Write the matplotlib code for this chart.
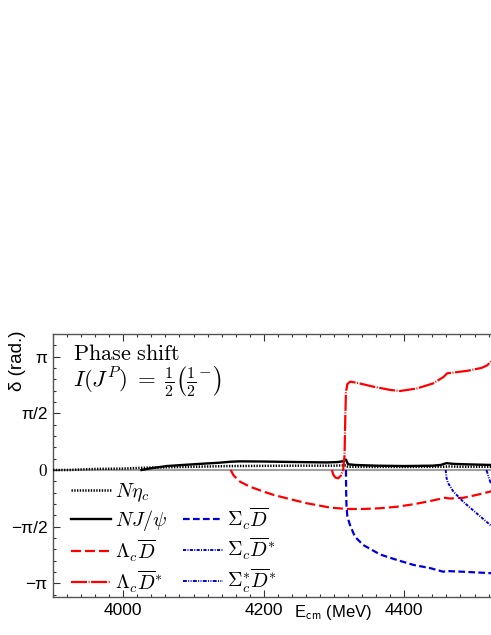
import matplotlib
matplotlib.use("Agg")
import matplotlib.pyplot as plt
from matplotlib.lines import Line2D
import numpy as np

# ---------------- data ----------------
E_neta = [3900, 3922, 3960, 4000, 4024, 4060, 4100, 4153, 4200, 4250, 4300, 4317, 4320, 4360, 4400, 4458, 4462, 4480, 4524]
d_neta = [0.0, 0.0, 0.03, 0.04, 0.06, 0.075, 0.09, 0.11, 0.115, 0.12, 0.12, 0.13, 0.09, 0.085, 0.085, 0.09, 0.10, 0.09, 0.09]

E_njpsi = [4026, 4040, 4062, 4085, 4109, 4135, 4153, 4166, 4200, 4250, 4290, 4305, 4312, 4317, 4320, 4330, 4360, 4400, 4440, 4452, 4460, 4470, 4484, 4524]
d_njpsi = [0.0, 0.05, 0.11, 0.14, 0.17, 0.20, 0.23, 0.24, 0.235, 0.22, 0.21, 0.22, 0.24, 0.29, 0.16, 0.14, 0.12, 0.11, 0.12, 0.14, 0.19, 0.17, 0.16, 0.14]

E_lcd = [4153, 4157, 4166, 4180, 4200, 4214, 4240, 4261, 4294, 4318, 4342, 4365, 4389, 4413, 4437, 4458, 4465, 4484, 4503, 4524]
d_lcd = [0.0, -0.15, -0.32, -0.46, -0.60, -0.69, -0.82, -0.92, -1.04, -1.08, -1.08, -1.06, -1.02, -0.95, -0.86, -0.77, -0.79, -0.77, -0.69, -0.59]

E_lcds = [4297, 4299, 4302, 4306, 4310, 4313, 4315, 4316, 4317, 4319, 4323, 4332, 4356, 4380, 4394, 4418, 4441, 4456, 4461, 4465, 4490, 4510, 4518, 4524]
d_lcds = [0.0, -0.13, -0.21, -0.23, -0.15, 0.0, 0.4, 1.4, 2.15, 2.38, 2.45, 2.42, 2.31, 2.22, 2.19, 2.26, 2.40, 2.58, 2.68, 2.69, 2.75, 2.83, 2.90, 3.02]

E_scd = [4317, 4317.3, 4317.8, 4319, 4322.7, 4329.8, 4341.7, 4365.5, 4389, 4413, 4437, 4455.6, 4460.4, 4484, 4524]
d_scd = [0.0, -0.6, -1.0, -1.29, -1.52, -1.85, -2.08, -2.34, -2.49, -2.63, -2.72, -2.82, -2.80, -2.82, -2.86]

E_scds = [4459, 4460, 4462, 4470, 4484, 4503, 4524]
d_scds = [0.0, -0.2, -0.35, -0.60, -0.88, -1.20, -1.55]

E_ssds = [4517, 4519, 4521, 4524]
d_ssds = [0.0, -0.12, -0.25, -0.40]

labels = [r'$N\eta_c$', r'$NJ/\psi$', r'$\Lambda_c\overline{D}$', r'$\Lambda_c\overline{D}^{*}$',
          r'$\Sigma_c\overline{D}$', r'$\Sigma_c\overline{D}^{*}$', r'$\Sigma_c^{*}\overline{D}^{*}$']

xticks = [4000, 4200, 4400]
yticks = [-np.pi, -np.pi / 2, 0, np.pi / 2, np.pi]
ytick_labels = ['\u2212\u03c0', '\u2212\u03c0/2', '0', '\u03c0/2', '\u03c0']

# ---------------- style ----------------
plt.rcParams['font.family'] = ['Liberation Sans', 'DejaVu Sans']
plt.rcParams['mathtext.fontset'] = 'cm'

RED = '#ff0000'
BLUE = '#0000dd'

fig = plt.figure(figsize=(4.91, 6.35), dpi=100)
ax = fig.add_axes([53 / 491, 38 / 635, 491.75 / 491, 263 / 635])

ax.axhline(0, color='#a0a0a0', lw=1.5, zorder=1)

l1, = ax.plot(E_neta, d_neta, color='black', lw=1.8, ls=(0, (0.55, 0.55)), zorder=3)
l2, = ax.plot(E_njpsi, d_njpsi, color='black', lw=1.7, zorder=3)
l3, = ax.plot(E_lcd, d_lcd, color=RED, lw=1.6, ls=(0, (4.5, 1.8)), zorder=4)
l4, = ax.plot(E_lcds, d_lcds, color=RED, lw=1.6, ls=(0, (7.2, 0.7, 0.45, 0.7)), zorder=4)
l5, = ax.plot(E_scd, d_scd, color=BLUE, lw=1.6, ls=(0, (3.0, 1.5)), zorder=4)
l6, = ax.plot(E_scds, d_scds, color=BLUE, lw=1.4, ls=(0, (1.6, 0.7, 0.5, 0.7)), zorder=4)
l7, = ax.plot(E_ssds, d_ssds, color=BLUE, lw=1.4, ls=(0, (2.0, 0.7, 0.5, 0.7, 0.5, 0.7)), zorder=4)

ax.set_xlim(3900, 4600)
ax.set_ylim(-3.52, 3.77)

ax.set_xticks(xticks)
ax.set_xticks(np.arange(3900, 4601, 20), minor=True)
ax.set_yticks(yticks)
ax.set_yticklabels(ytick_labels)
ax.set_yticks(np.arange(-11, 12) * np.pi / 10, minor=True)

for lab in ax.get_yticklabels():
    if lab.get_text() == '0':
        lab.set_fontfamily('cmr10')
        lab.set_fontsize(14)

ax.tick_params(which='both', direction='in', top=True, right=False, color='#333333', width=0.8)
ax.tick_params(which='major', length=5, labelsize=12.5, pad=4)
ax.tick_params(which='minor', length=2.5)
for s in ['left', 'bottom', 'top', 'right']:
    ax.spines[s].set_color('#555555')
    ax.spines[s].set_linewidth(1.0)

ax.set_ylabel('\u03b4 (rad.)', fontsize=13.5)
ax.yaxis.set_label_coords((26 - 53) / 491.75, (597 - 361) / 263)

ax.text((333 - 53) / 491.75, (597 - 613) / 263, r'E$_{\mathsf{cm}}$ (MeV)', transform=ax.transAxes,
        ha='center', va='center', fontsize=12)

ax.text((73 - 53) / 491.75, (597 - 360) / 263, r'$\mathrm{Phase\ shift}$', transform=ax.transAxes,
        ha='left', va='baseline', fontsize=16)
ax.text((73 - 53) / 491.75, (597 - 387) / 263, r'$I(J^P)\;=\;\frac{1}{2}\left(\frac{1}{2}^{-}\right)$',
        transform=ax.transAxes, ha='left', va='baseline', fontsize=16.5)

blank = Line2D([], [], color='none')
handles = [l1, l2, l3, l4, blank, l5, l6, l7]
labs = labels[:4] + [''] + labels[4:]
ax.legend(handles, labs, ncol=2, loc='upper left', bbox_to_anchor=((71 - 53) / 491.75, (597 - 481) / 263),
          frameon=False, fontsize=14.5, handlelength=2.0, handletextpad=0.2, columnspacing=0.75,
          labelspacing=0.22, borderpad=0, borderaxespad=0)

fig.savefig('out.png', dpi=100)
